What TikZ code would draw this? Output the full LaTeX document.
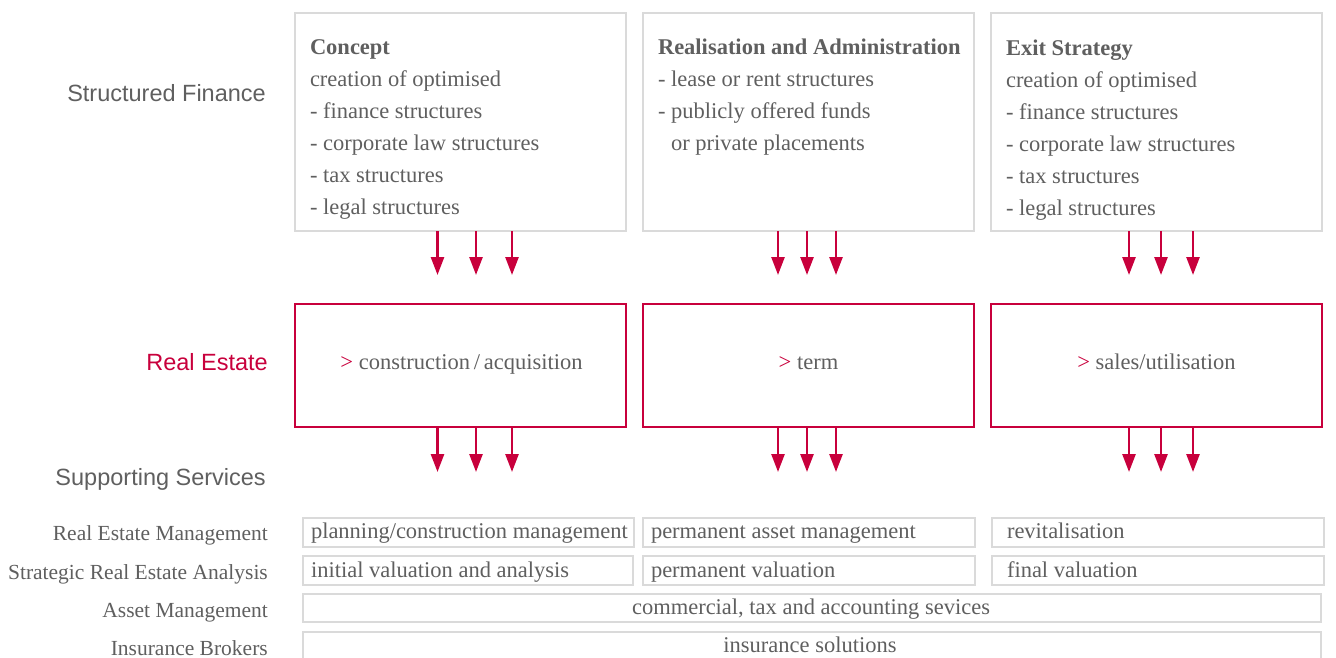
\documentclass[tikz,border=0pt]{standalone}
\usepackage{fontspec}
\setmainfont{Liberation Serif}
\newfontfamily\labelsans{Liberation Sans}
\usetikzlibrary{arrows.meta}
\definecolor{txtgray}{HTML}{5F5F5F}
\definecolor{boxgray}{HTML}{DADADA}
\definecolor{crim}{HTML}{C8003C}
\begin{document}
\begin{tikzpicture}[x=1pt,y=-1pt,
  graybox/.style={draw=boxgray, line width=2pt, inner sep=0pt, outer sep=0pt, anchor=north west},
  redbox/.style={draw=crim, line width=2pt, inner sep=0pt, outer sep=0pt, anchor=north west},
  txt/.style={text=txtgray, font=\fontsize{22.5}{32}\selectfont, inner sep=0pt, outer sep=0pt},
  sidelabel/.style={text=txtgray, font=\labelsans\fontsize{23.5}{28}\selectfont, inner sep=0pt, anchor=base east},
  rowlabel/.style={text=txtgray, font=\fontsize{21.5}{26}\selectfont, inner sep=0pt, anchor=base east},
  arr/.style={draw=crim, line width=2.6pt, -{Triangle[width=13pt,length=18pt]}}
]
\useasboundingbox (0,0) rectangle (1336,657);
\clip (0,0) rectangle (1336,657);

% side labels
\node[sidelabel] (lsf) at (266,101) {Structured Finance};
\node[sidelabel, text=crim] (lre) at (268,370) {Real Estate};
\node[sidelabel] (lss) at (266,485) {Supporting Services};

% top boxes
\node[graybox, minimum width=331pt, minimum height=218pt] (t1) at (295,13) {};
\node[graybox, minimum width=331pt, minimum height=218pt] (t2) at (643,13) {};
\node[graybox, minimum width=331pt, minimum height=218pt] (t3) at (991,13) {};

\node[txt, anchor=north west, align=left] (t1x) at (310,39.5)
  {\textbf{Concept}\\creation of optimised\\- finance structures\\- corporate law structures\\- tax structures\\- legal structures};
\node[txt, anchor=north west, align=left] (t2x) at (658,39.3)
  {\textbf{Realisation and Administration}\\- lease or rent structures\\- publicly offered funds\\\phantom{- }or private placements};
\node[txt, anchor=north west, align=left] (t3x) at (1006,39.5)
  {\textbf{Exit Strategy}\\creation of optimised\\- finance structures\\- corporate law structures\\- tax structures\\- legal structures};

% real estate boxes
\node[redbox, minimum width=331pt, minimum height=123pt] (r1) at (295,304) {};
\node[redbox, minimum width=331pt, minimum height=123pt] (r2) at (643,304) {};
\node[redbox, minimum width=331pt, minimum height=123pt] (r3) at (991,304) {};
\node[txt, anchor=base] (r1x) at (461.5,369) {\textcolor{crim}{>} construction\,/\,acquisition};
\node[txt, anchor=base] (r2x) at (808.5,369) {\textcolor{crim}{>} term};
\node[txt, anchor=base] (r3x) at (1156.5,369) {\textcolor{crim}{>} sales/utilisation};

% arrows
\foreach \dx in {-23,15.5,51.5} {
  \draw[arr, shorten >=29pt] ([xshift=\dx pt]t1.south) -- ([xshift=\dx pt]r1.north);
  \draw[arr, shorten >=46pt] ([xshift=\dx pt]r1.south) -- ([xshift=\dx pt]r1.south |- 0,518);
}
\foreach \dx in {-30.5,-1.5,27.5} {
  \draw[arr, shorten >=29pt] ([xshift=\dx pt]t2.south) -- ([xshift=\dx pt]r2.north);
  \draw[arr, shorten >=46pt] ([xshift=\dx pt]r2.south) -- ([xshift=\dx pt]r2.south |- 0,518);
}
\foreach \dx in {-27.5,4.5,36.5} {
  \draw[arr, shorten >=29pt] ([xshift=\dx pt]t3.south) -- ([xshift=\dx pt]r3.north);
  \draw[arr, shorten >=46pt] ([xshift=\dx pt]r3.south) -- ([xshift=\dx pt]r3.south |- 0,518);
}

% supporting services rows
\node[graybox, minimum width=331pt, minimum height=29pt] (a1) at (303,518) {};
\node[graybox, minimum width=332pt, minimum height=29pt] (a2) at (643,518) {};
\node[graybox, minimum width=332pt, minimum height=29pt] (a3) at (992,518) {};
\node[graybox, minimum width=330pt, minimum height=29pt] (b1) at (303,556) {};
\node[graybox, minimum width=332pt, minimum height=29pt] (b2) at (643,556) {};
\node[graybox, minimum width=332pt, minimum height=29pt] (b3) at (992,556) {};
\node[graybox, minimum width=1018pt, minimum height=28pt] (c1) at (303,594) {};
\node[graybox, minimum width=1018pt, minimum height=29pt] (d1) at (303,632) {};

\node[txt, anchor=base west] (a1x) at (311,538) {planning/construction management};
\node[txt, anchor=base west] (a2x) at (651,538) {permanent asset management};
\node[txt, anchor=base west] (a3x) at (1007,538) {revitalisation};
\node[txt, anchor=base west] (b1x) at (311,577) {initial valuation and analysis};
\node[txt, anchor=base west] (b2x) at (651,577) {permanent valuation};
\node[txt, anchor=base west] (b3x) at (1007,577) {final valuation};
\node[txt, anchor=base] (c1x) at (811,614) {commercial, tax and accounting sevices};
\node[txt, anchor=base] (d1x) at (810,652) {insurance solutions};

\node[rowlabel] (la) at (268,540) {Real Estate Management};
\node[rowlabel] (lb) at (268,579) {Strategic Real Estate Analysis};
\node[rowlabel] (lc) at (268,617) {Asset Management};
\node[rowlabel] (ld) at (268,655) {Insurance Brokers};
\end{tikzpicture}
\end{document}
